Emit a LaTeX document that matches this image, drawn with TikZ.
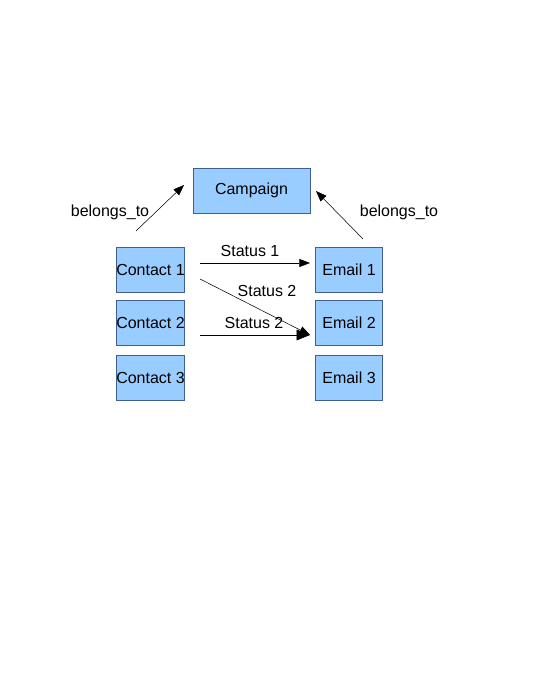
\documentclass[tikz,border=0pt]{standalone}
\usepackage{fontspec}
\setmainfont{Liberation Sans}
\usepackage{xcolor}
\usetikzlibrary{arrows.meta, positioning, calc}

\definecolor{boxfill}{HTML}{99CCFF}
\definecolor{boxline}{HTML}{3F5F8F}

\begin{document}
\begin{tikzpicture}[x=0.75pt, y=-0.75pt,
		every node/.style={font=\fontsize{12}{14}\selectfont},
		entity/.style={draw=boxline, fill=boxfill, inner sep=0pt,
			minimum width=50.5pt, minimum height=33.75pt},
		link/.style={-{Triangle[length=8pt, width=6pt]}, thin},
		biglink/.style={-{Triangle[length=10pt, width=8pt]}, thin}]
		
		% Page
		\useasboundingbox (0,0) rectangle (540,699);
		
		% Campaign
		\node[entity, minimum width=87.75pt] (campaign) at (251.5,190.5) {Campaign};
		
		% Contacts and emails
		\foreach \i/\y in {1/269.5, 2/322.5, 3/377.5}{
			\node[entity] (contact\i) at (150.5,\y) {Contact \i};
			\node[entity] (email\i) at (349,\y) {Email \i};
		}
		
		% Free ends of the arrows
		\coordinate (lbt0) at (136,231);
		\coordinate (lbt1) at (184,185);
		\coordinate (rbt0) at (363,239);
		\coordinate (rbt1) at (316,191);
		\coordinate (s1a) at (200,263);
		\coordinate (s1b) at (310,263);
		\coordinate (s2a) at (200,279);
		\coordinate (s2b) at (310,335);
		\coordinate (s3a) at (200,335);
		
		% belongs_to
		\draw[link] (lbt0) -- (lbt1);
		\draw[link] (rbt0) -- (rbt1);
		\node (lbtlabel) at (110,212) {belongs\_to};
		\node (rbtlabel) at (399,212) {belongs\_to};
		
		% Status arrows
		\draw[link] (s1a) -- (s1b);
		\draw[link] (s2a) -- (s2b);
		\draw[biglink] (s3a) -- (s2b);
		\node (st1) at (250,251) {Status 1};
		\node (st2) at (267,291) {Status 2};
		\node (st3) at (254,323) {Status 2};
		
	\end{tikzpicture}
\end{document}
